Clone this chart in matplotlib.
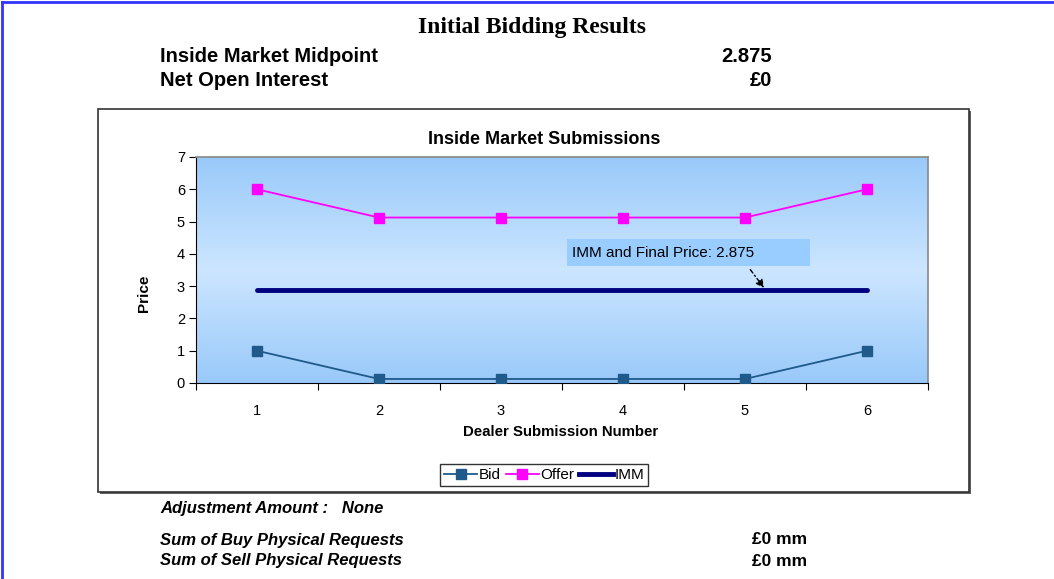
import numpy as np
import matplotlib
matplotlib.use("Agg")
import matplotlib.pyplot as plt
from matplotlib.patches import Rectangle
from matplotlib.lines import Line2D

W, H = 1054, 579
dealers = [1, 2, 3, 4, 5, 6]
bid = [1, 0.125, 0.125, 0.125, 0.125, 1]
offer = [6, 5.125, 5.125, 5.125, 5.125, 6]
imm = [2.875, 2.875, 2.875, 2.875, 2.875, 2.875]

BID_C, OFFER_C, IMM_C = "#1f5a8a", "#ff00ff", "#000080"
SANS = ["Liberation Sans", "DejaVu Sans"]
SERIF = ["Liberation Serif", "DejaVu Serif"]

plt.rcParams["font.family"] = SANS
fig = plt.figure(figsize=(W / 100, H / 100), dpi=100)
fig.patch.set_facecolor("white")


def fx(px):
    return px / W


def fy(py):
    return 1 - py / H


# page border (blue, top and left)
fig.add_artist(Line2D([fx(2), fx(2)], [0, fy(2)], color="#3333ff", lw=2))
fig.add_artist(Line2D([fx(2), 1], [fy(2), fy(2)], color="#3333ff", lw=2))

# header
fig.text(fx(532), fy(27), "Initial Bidding Results", family=SERIF, fontsize=17,
         fontweight="bold", ha="center", va="center")
fig.text(fx(160), fy(57), "Inside Market Midpoint", fontsize=14.5, fontweight="bold", va="center")
fig.text(fx(772), fy(57), "2.875", fontsize=14.5, fontweight="bold", va="center", ha="right")
fig.text(fx(160), fy(80), "Net Open Interest", fontsize=14.5, fontweight="bold", va="center")
fig.text(fx(772), fy(80), "£0", fontsize=14.5, fontweight="bold", va="center", ha="right")

# chart box with shadow
fig.add_artist(Rectangle((fx(100), fy(494)), fx(871) - fx(0), fy(111) - fy(494),
                         transform=fig.transFigure, facecolor="#606060", edgecolor="none", zorder=0))
fig.add_artist(Rectangle((fx(98), fy(492)), fx(871) - fx(0), fy(109) - fy(492),
                         transform=fig.transFigure, facecolor="white", edgecolor="#333333", lw=1.2, zorder=0.5))

ax = fig.add_axes([fx(196), fy(383), fx(928) - fx(196), fy(157) - fy(383)])
ax.set_zorder(2)
ax.set_xlim(0.5, 6.5)
ax.set_ylim(0, 7)

# gradient background: blue at edges, light in the middle
t = np.linspace(0, 1, 256)
top = np.array([0.60, 0.79, 0.98])
mid = np.array([0.80, 0.90, 1.00])
w = 1 - np.abs(t - 0.5) * 2
grad = top[None, :] * (1 - w[:, None]) + mid[None, :] * w[:, None]
ax.imshow(grad[:, None, :], extent=[0.5, 6.5, 0, 7], aspect="auto", origin="lower", zorder=0)

ax.plot(dealers, imm, color=IMM_C, lw=3.5, solid_capstyle="round", zorder=3, label="IMM")
ax.plot(dealers, bid, color=BID_C, lw=1.3, marker="s", ms=7, mec=BID_C, zorder=4, label="Bid")
ax.plot(dealers, offer, color=OFFER_C, lw=1.3, marker="s", ms=7, mec=OFFER_C, zorder=4, label="Offer")

# callout box
ax.add_patch(Rectangle((3.54, 3.62), 1.99, 0.84, facecolor="#99ccff", edgecolor="none", zorder=5))
ax.text(3.58, 4.04, "IMM and Final Price: 2.875", fontsize=11, va="center", ha="left", zorder=6)
ax.annotate("", xy=(5.17, 2.875), xytext=(5.03, 3.58),
            arrowprops=dict(arrowstyle="-|>", color="black", lw=1, linestyle=(0, (3, 2, 1, 2)),
                            mutation_scale=12), zorder=5)

ax.set_xticks([0.5, 1.5, 2.5, 3.5, 4.5, 5.5, 6.5])
ax.set_xticklabels([])
ax.set_xticks(dealers, minor=True)
ax.set_xticklabels([str(d) for d in dealers], minor=True)
ax.tick_params(axis="x", which="major", direction="out", length=5, color="black")
ax.tick_params(axis="x", which="minor", length=0, pad=15, labelsize=10.5)
ax.set_yticks(range(8))
ax.tick_params(axis="y", direction="out", length=5, pad=3, labelsize=10.5)
for s in ("left", "bottom"):
    ax.spines[s].set_color("black")
for s in ("top", "right"):
    ax.spines[s].set_color("#888888")
    ax.spines[s].set_linewidth(1.2)

fig.text(fx(544), fy(140), "Inside Market Submissions", fontsize=13, fontweight="bold",
         ha="center", va="center")
fig.text(fx(144), fy(293), "Price", fontsize=11, fontweight="bold", rotation=90,
         ha="center", va="center")
fig.text(fx(561), fy(432), "Dealer Submission Number", fontsize=10.8, fontweight="bold",
         ha="center", va="center")

handles = [
    Line2D([], [], color=BID_C, lw=1.3, marker="s", ms=7),
    Line2D([], [], color=OFFER_C, lw=1.3, marker="s", ms=7),
    Line2D([], [], color=IMM_C, lw=3.5),
]
leg = fig.legend(handles, ["Bid", "Offer", "IMM"], loc="center", bbox_to_anchor=(fx(544), fy(475)),
                 ncol=3, fontsize=11, frameon=True, fancybox=False, handlelength=2.2,
                 handletextpad=0.1, columnspacing=0.3, borderpad=0.25)
leg.get_frame().set_edgecolor("black")
leg.get_frame().set_linewidth(1)
leg.set_zorder(3)

# footer
fig.text(fx(160), fy(509), "Adjustment Amount :   None", fontsize=12, fontweight="bold",
         style="italic", va="center")
fig.text(fx(160), fy(540), "Sum of Buy Physical Requests", fontsize=12, fontweight="bold",
         style="italic", va="center")
fig.text(fx(160), fy(561), "Sum of Sell Physical Requests", fontsize=12, fontweight="bold",
         style="italic", va="center")
fig.text(fx(752), fy(540), "£0 mm", fontsize=12.5, fontweight="bold", va="center")
fig.text(fx(752), fy(561), "£0 mm", fontsize=12.5, fontweight="bold", va="center")

fig.savefig("out.png", dpi=100)
